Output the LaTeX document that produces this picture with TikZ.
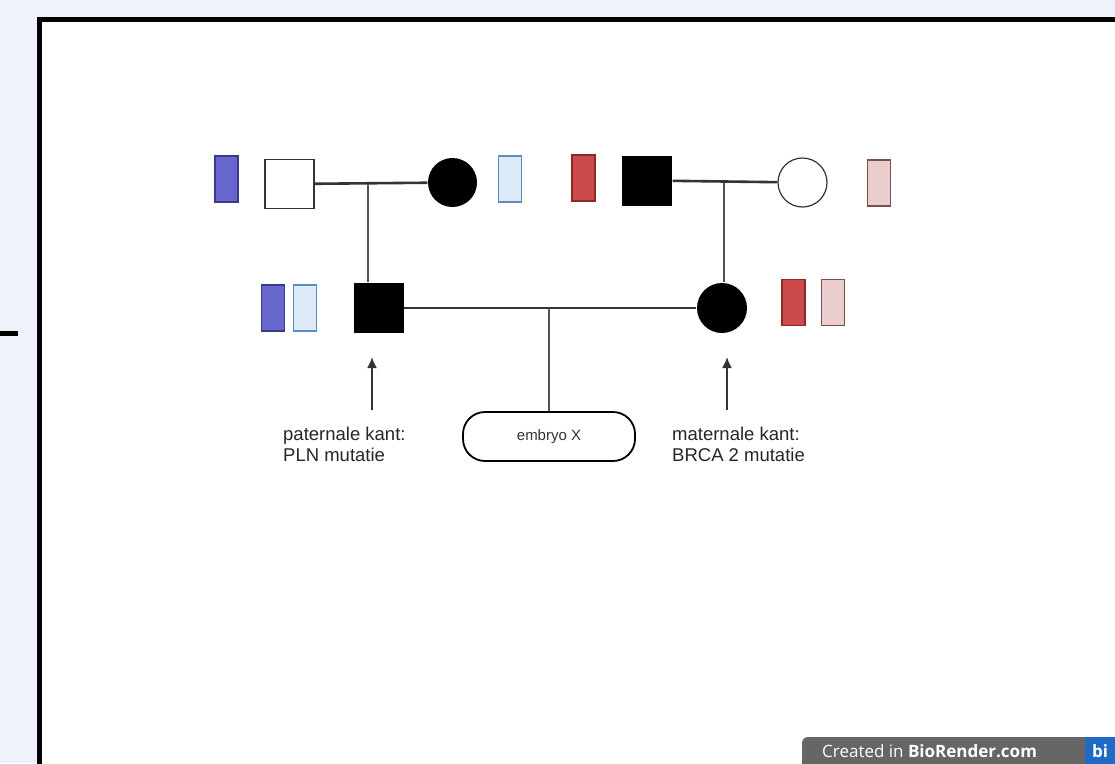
\documentclass[tikz,border=0pt]{standalone}
\usepackage{fontspec}
\setmainfont{Liberation Sans}
\newfontfamily\badgefont{Open Sans}
\usetikzlibrary{arrows.meta}

\definecolor{bgblue}{HTML}{EEF3FB}
\definecolor{chrpurple}{HTML}{6666CC}
\definecolor{chrpurpleline}{HTML}{3A3A88}
\definecolor{chrlight}{HTML}{DDEBF8}
\definecolor{chrlightline}{HTML}{5A8CBE}
\definecolor{chrred}{HTML}{CC4A4A}
\definecolor{chrredline}{HTML}{8A2A2A}
\definecolor{chrpink}{HTML}{EBCDCD}
\definecolor{chrpinkline}{HTML}{7A4E4E}
\definecolor{linegray}{HTML}{333333}
\definecolor{badgegray}{HTML}{666666}
\definecolor{badgeblue}{HTML}{1E6BC6}

\tikzset{
  male/.style={rectangle, minimum size=49pt, inner sep=0pt, line width=1.2pt},
  female/.style={circle, minimum size=49pt, inner sep=0pt, line width=1.2pt},
  chrom/.style={rectangle, minimum width=23pt, minimum height=46pt, inner sep=0pt, line width=1.5pt},
  couple/.style={draw=linegray, line width=2.6pt},
  descent/.style={draw=linegray!85, line width=1.8pt},
  note/.style={anchor=north west, inner sep=0pt, align=left,
    font=\fontsize{18.5}{20.5}\selectfont, text=black!85}
}

\begin{document}
\begin{tikzpicture}[x=1pt, y=-1pt]

\def \framew {5pt} % thickness of the outer frame

\useasboundingbox (0,0) rectangle (1115,763);
\clip (0,0) rectangle (1115,763);
\fill[bgblue] (0,0) rectangle (1115,763);

% frame
\fill[white] (39.5,19) rectangle (1130,790);
\draw[line width=\framew] (1130,19) -- (39.5,19) -- (39.5,790);
\draw[line width=\framew] (0,333.5) -- (18,333.5);

% grandparents
\node[male, draw=linegray, fill=white] (gfP) at (289.5,184) {};
\node[female, fill=black] (gmP) at (452.5,182.5) {};
\node[male, fill=black, minimum size=50pt] (gfM) at (647,180.5) {};
\node[female, draw=linegray, fill=white] (gmM) at (802.5,182.5) {};

% parents
\node[male, fill=black, minimum size=50pt] (father) at (378.5,308) {};
\node[female, fill=black, minimum size=50pt] (mother) at (722,308) {};

% child
\node[draw, line width=1.8pt, rounded corners=22pt, minimum width=172pt, minimum height=49pt,
  font=\fontsize{15}{18}\selectfont, text=black!80] (embryo) at (549,436.5) {embryo X};

\coordinate (mP) at (368,184);
\coordinate (mM) at (724,183);
\coordinate (mC) at (549,308);

\draw[couple] (gfP) -- (gmP);
\draw[couple] (gfM) -- (gmM);
\draw[couple, line width=2pt] (father) -- (mother);
\draw[descent] (mP) -- (mP |- father.north);
\draw[descent] (mM) -- (mM |- mother.north);
\draw[descent] (mC) -- (embryo.north);

% chromosomes
\foreach \name/\x/\y/\fc/\dc in {cA/226.5/179/chrpurple/chrpurpleline,
  cB/510/179/chrlight/chrlightline, cC/583.5/178/chrred/chrredline,
  cD/879/183/chrpink/chrpinkline, cE/273/308/chrpurple/chrpurpleline,
  cF/305/308/chrlight/chrlightline, cG/793.5/302.5/chrred/chrredline,
  cH/833/302.5/chrpink/chrpinkline}
{
  \node[chrom, fill=\fc, draw=\dc] (\name) at (\x,\y) {};
}

% side notes
\node[note] (labP) at (283,427) {paternale kant:\\PLN mutatie};
\node[note] (labM) at (672,427) {maternale kant:\\BRCA 2 mutatie};

\coordinate (tailP) at (372,410);
\coordinate (tipP) at (372,357);
\coordinate (tailM) at (727,410);
\coordinate (tipM) at (727,357);
\draw[->, >={Latex[length=11pt, width=10pt]}, line width=1.8pt, linegray] (tailP) -- (tipP);
\draw[->, >={Latex[length=11pt, width=10pt]}, line width=1.8pt, linegray] (tailM) -- (tipM);

% badge
\fill[badgegray, rounded corners=6pt] (802,790) -- (802,737) -- (1120,737) -- (1120,790) -- cycle;
\fill[badgeblue] (1085,737) rectangle (1120,790);
\node[anchor=base west, inner sep=0pt, text=white, font=\badgefont\fontsize{17}{20}\selectfont]
  (badge) at (822,757) {Created in \textbf{BioRender.com}};
\node[anchor=base west, inner sep=0pt, text=white, font=\badgefont\fontsize{17}{20}\selectfont]
  (logo) at (1092,757) {\textbf{bi}};

\end{tikzpicture}
\end{document}
